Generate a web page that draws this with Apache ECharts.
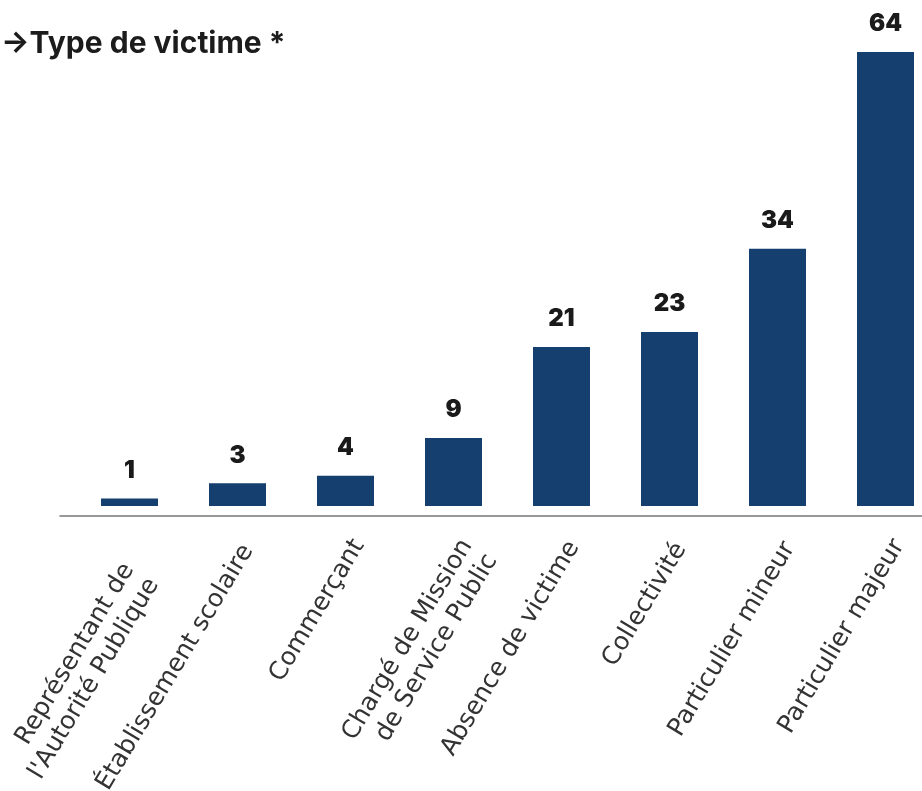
<!DOCTYPE html>
<html>
<head>
<meta charset="utf-8">
<script src="https://cdn.jsdelivr.net/npm/echarts@6/dist/echarts.min.js"></script>
<style>html,body{margin:0;padding:0;background:#fff;}#c{width:922px;height:791px;}</style>
</head>
<body>
<div id="c"></div>
<script>
const categories = [
  "Représentant de\nl'Autorité Publique",
  "Établissement scolaire",
  "Commerçant",
  "Chargé de Mission\nde Service Public",
  "Absence de victime",
  "Collectivité",
  "Particulier mineur",
  "Particulier majeur"
];
const values = [1, 3, 4, 9, 21, 23, 34, 64];
const titleText = "→Type de victime *";
const axisMax = 60; // tallest bar is capped in the original chart

// label nudges (style only), indexed like categories
const labelPadRight = [28, 6, 0, 0, 2, 4, 3, 0];
const labelData = categories.map((c, i) => ({
  value: c,
  textStyle: { align: 'right', verticalAlign: 'top', padding: [0, labelPadRight[i], 0, 0] }
}));

const chart = echarts.init(document.getElementById('c'));
chart.setOption({
  animation: false,
  backgroundColor: '#ffffff',
  title: {
    text: titleText,
    left: -4, top: 24,
    textStyle: { fontFamily: 'Inter', fontWeight: 700, fontSize: 30, color: '#1c1c1c' }
  },
  grid: [
    { left: 75.5, width: 864, top: 52, height: 454, outerBoundsMode: 'none' },
    { left: 60, right: 0, top: 52, height: 464, outerBoundsMode: 'none' },
    { left: 76.5, width: 864, top: 52, height: 454, outerBoundsMode: 'none' }
  ],
  xAxis: [
    {
      type: 'category', gridIndex: 0, data: categories,
      axisLine: { show: false }, axisTick: { show: false }, axisLabel: { show: false }
    },
    {
      type: 'category', gridIndex: 1, data: categories,
      axisLine: { show: true, lineStyle: { color: '#777', width: 1.5 } },
      axisTick: { show: false }, axisLabel: { show: false }
    },
    {
      type: 'category', gridIndex: 2, data: labelData,
      axisLine: { show: false }, axisTick: { show: false },
      axisLabel: {
        interval: 0, rotate: 59, margin: 28,
        align: 'right', verticalAlign: 'top',
        fontFamily: 'DejaVu Sans', fontSize: 25, lineHeight: 29, color: '#333'
      }
    }
  ],
  yAxis: [
    { type: 'value', gridIndex: 0, min: 0, max: axisMax, show: false },
    { type: 'value', gridIndex: 1, min: 0, max: axisMax, show: false },
    { type: 'value', gridIndex: 2, min: 0, max: axisMax, show: false }
  ],
  series: [{
    type: 'bar', xAxisIndex: 0, yAxisIndex: 0,
    data: values, barWidth: 57, clip: true,
    itemStyle: { color: '#143F6E' },
    label: {
      show: true, position: 'top', distance: 16,
      fontFamily: 'Inter', fontWeight: 900, fontSize: 24, color: '#1a1a1a'
    }
  }]
});
</script>
</body>
</html>
